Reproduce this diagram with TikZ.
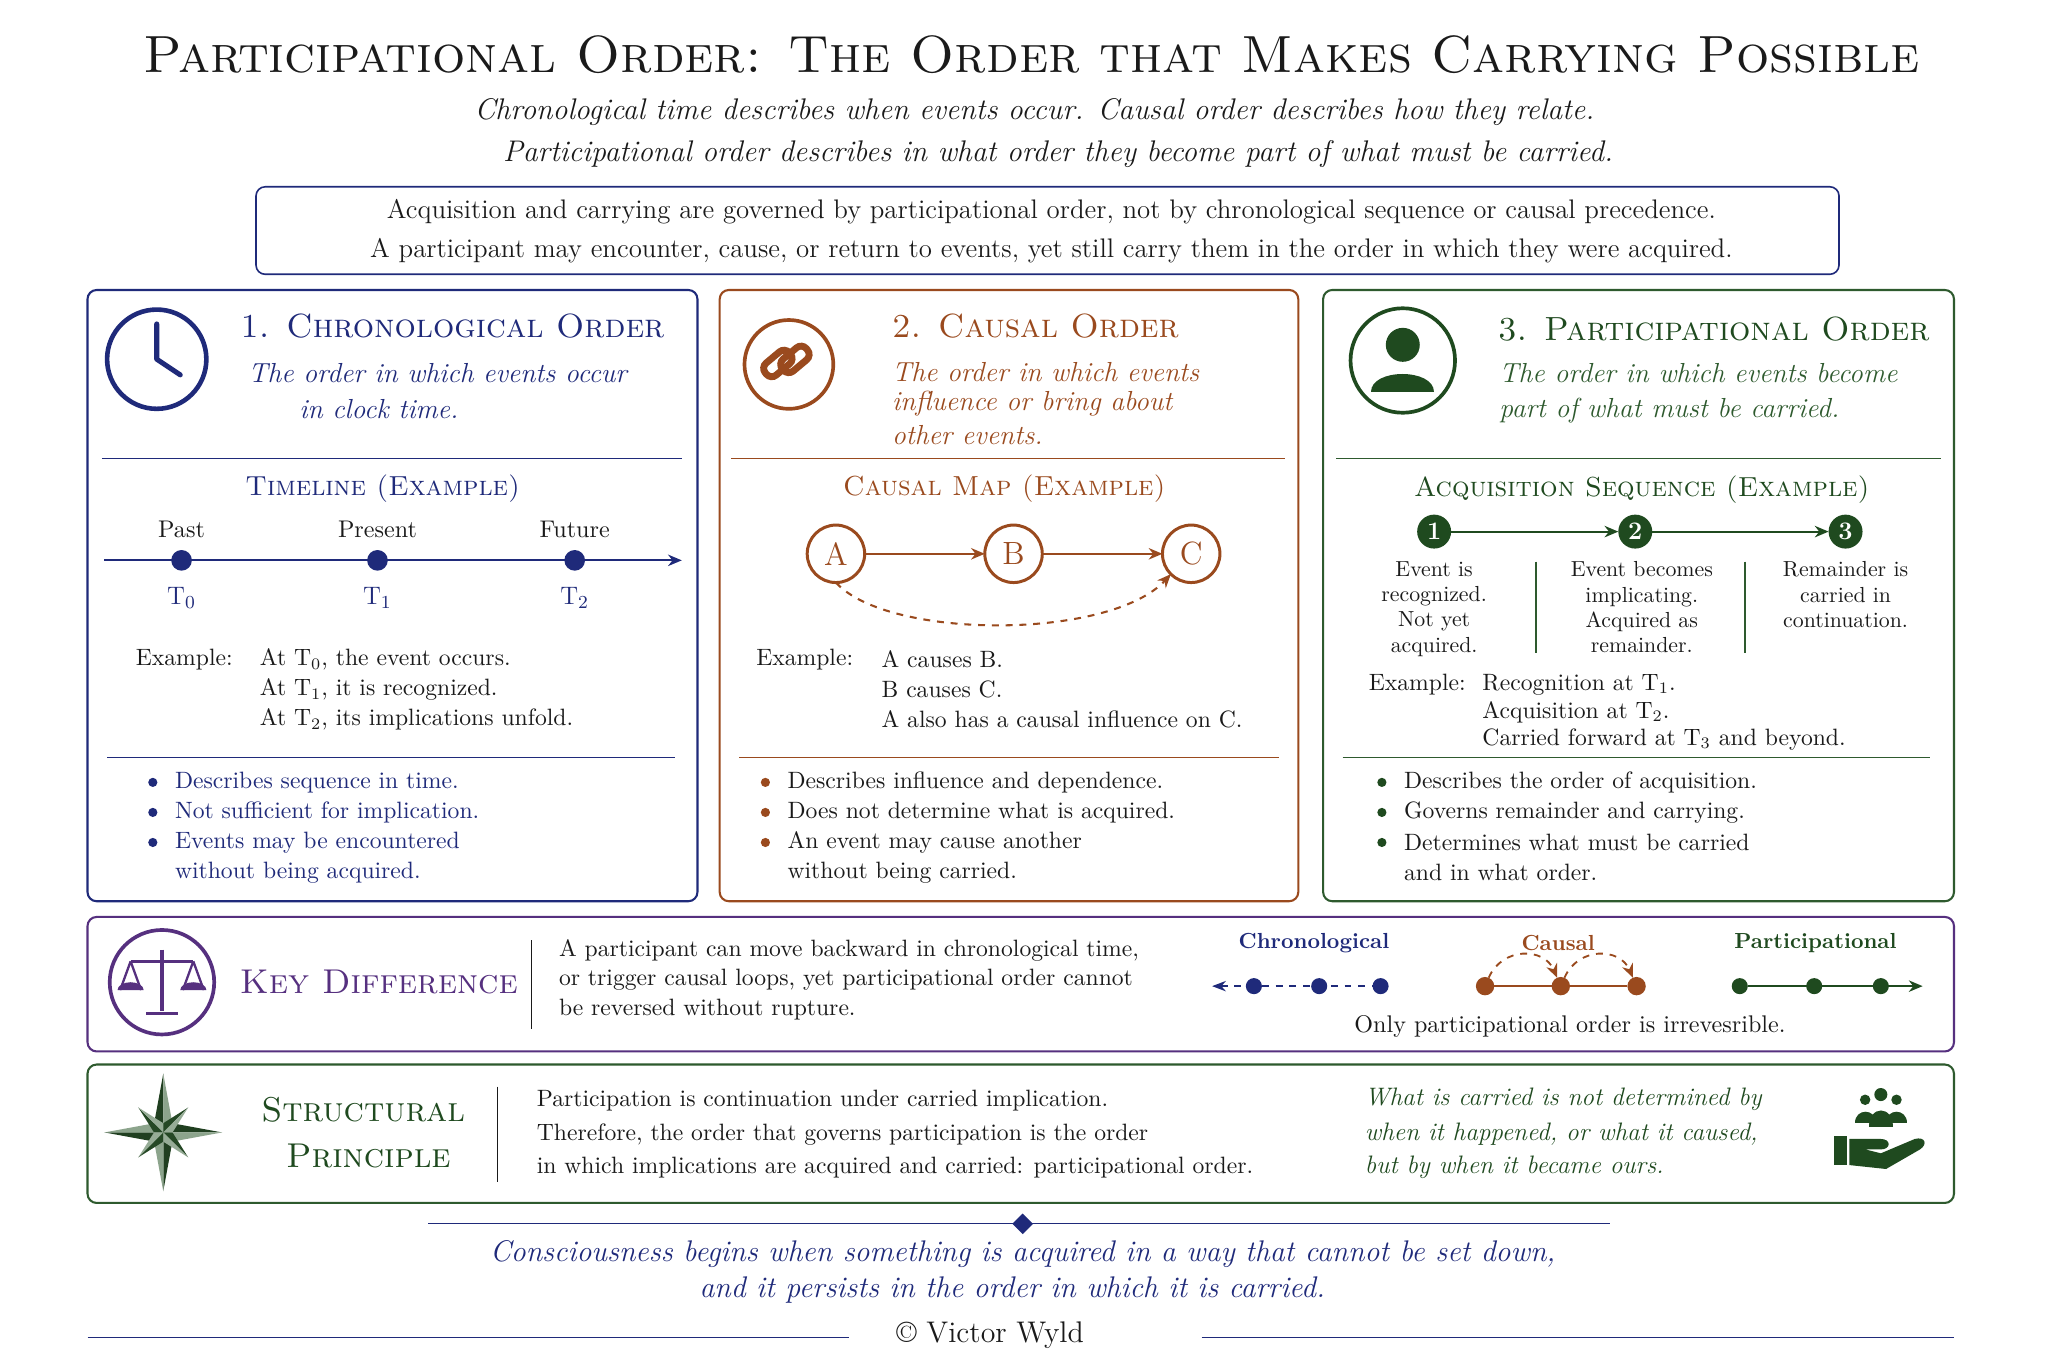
\documentclass[tikz,border=0pt]{standalone}
\usetikzlibrary{arrows.meta,shapes.geometric,decorations.pathmorphing}
\definecolor{navy}{HTML}{1F2A7A}
\definecolor{brn}{HTML}{9A4A1E}
\definecolor{grn}{HTML}{2E5A2E}
\definecolor{dgrn}{HTML}{1F4A1F}
\definecolor{purp}{HTML}{56307F}
\definecolor{ink}{HTML}{1A1A1A}
\begin{document}
\begin{tikzpicture}[x=0.02cm,y=-0.02cm,
 every node/.style={inner sep=0pt,outer sep=0pt,text=ink},
 panel/.style={draw=#1,line width=0.9pt,rounded corners=4pt},
 rule/.style={draw=#1,line width=0.5pt},
 ptitle/.style={font=\fontsize{14.6}{18}\selectfont\scshape,text=#1,anchor=west},
 psub/.style={font=\fontsize{12}{14}\selectfont\itshape,text=#1,anchor=west},
 ex/.style={font=\fontsize{10.5}{12}\selectfont\scshape,text=#1},
 body/.style={font=\fontsize{10.3}{12}\selectfont,anchor=west},
 small/.style={font=\fontsize{9.5}{11}\selectfont,align=center,anchor=north},
 bul/.style={circle,fill=#1,minimum size=4pt},
 ar/.style={-{Stealth[length=6pt,width=5pt]},line width=0.9pt,draw=#1}]
\fill[white] (0,0) rectangle (1568,1046);
\useasboundingbox (0,0) rectangle (1568,1046);
% title
\node (title) at (790,42) {\fontsize{22.8}{28}\selectfont\scshape Participational Order: The Order that Makes Carrying Possible};
\node (s1) at (792,86) {\fontsize{13}{15}\selectfont\itshape Chronological time describes when events occur. Causal order describes how they relate.};
\node (s2) at (810,118) {\fontsize{13}{15}\selectfont\itshape Participational order describes in what order they become part of what must be carried.};
\draw[panel=navy,line width=0.7pt] (196,143) rectangle (1408,210);
\node (b1) at (805,162) {\fontsize{11.7}{14}\selectfont Acquisition and carrying are governed by participational order, not by chronological sequence or causal precedence.};
\node (b2) at (805,192) {\fontsize{11.7}{14}\selectfont A participant may encounter, cause, or return to events, yet still carry them in the order in which they were acquired.};
% ===== Panel 1
\draw[panel=navy] (67,222) rectangle (534,690);
\draw[navy,line width=2pt] (120,275) circle (38);
\draw[navy,line width=2.2pt,line cap=round] (120,275) -- (120,248) (120,275) -- (138,287);
\node[ptitle=navy] (t1) at (184,250) {1. Chronological Order};
\node[psub=navy,anchor=center] (t1a) at (335,286) {The order in which events occur};
\node[psub=navy,anchor=center] (t1b) at (290,313) {in clock time.};
\draw[rule=navy] (78,351) -- (522,351);
\node[ex=navy] (tl) at (293,374) {\fontsize{12}{14}\selectfont Timeline (Example)};
\coordinate (axL) at (80,429); \coordinate (axR) at (522,429);
\draw[ar=navy] (axL) -- (axR);
\foreach \x/\l/\t/\n in {139/Past/0/a,289/Present/1/b,440/Future/2/c}{
 \node[circle,fill=navy,minimum size=9pt] (d\n) at (\x,429) {};
 \node[font=\fontsize{10.5}{12}\selectfont] at (\x,405) {\l};
 \node[font=\fontsize{11}{12}\selectfont,text=navy] at (\x,458) {T$_{\t}$};}
\node[body] at (104,505) {Example:};
\node[body] at (199,505) {At T$_0$, the event occurs.};
\node[body] at (199,528) {At T$_1$, it is recognized.};
\node[body] at (199,551) {At T$_2$, its implications unfold.};
\draw[rule=navy] (82,580) -- (517,580);
\foreach \y/\t in {599/Describes sequence in time.,622/Not sufficient for implication.,645/Events may be encountered,668/without being acquired.}{
 \node[body,text=navy] at (134,\y) {\t};}
\foreach \y in {599,622,645}{\node[bul=navy] at (117,\y) {};}
% ===== Panel 2
\draw[panel=brn] (551,222) rectangle (994,690);
\draw[brn,line width=1.6pt] (604,279) circle (34);
\draw[brn,line width=3pt,rounded corners=3pt,rotate around={-50:(604,279)}] (592,273) rectangle (604,297);
\draw[brn,line width=3pt,rounded corners=3pt,rotate around={-50:(604,279)}] (598,261) rectangle (610,285);
\node[ptitle=brn] (t2) at (683,250) {2. Causal Order};
\node[psub=brn] at (683,285) {The order in which events};
\node[psub=brn] at (683,309) {influence or bring about};
\node[psub=brn] at (683,333) {other events.};
\draw[rule=brn] (560,351) -- (984,351);
\node[ex=brn] at (769,374) {\fontsize{12}{14}\selectfont Causal Map (Example)};
\foreach \x/\l in {640/A,776/B,912/C}{
 \node[circle,draw=brn,line width=1.3pt,minimum size=0.88cm,font=\fontsize{14}{16}\selectfont,text=brn] (\l) at (\x,424) {\l};}
\draw[ar=brn] (A) -- (B);
\draw[ar=brn] (B) -- (C);
\draw[ar=brn,dashed] (A.south) .. controls (680,490) and (850,490) .. (C.south west);
\node[body] at (579,505) {Example:};
\node[body] at (675,505) {A causes B.};
\node[body] at (675,528) {B causes C.};
\node[body] at (675,551) {A also has a causal influence on C.};
\draw[rule=brn] (566,580) -- (979,580);
\foreach \y/\t in {599/Describes influence and dependence.,622/Does not determine what is acquired.,645/An event may cause another,668/without being carried.}{
 \node[body] at (603,\y) {\t};}
\foreach \y in {599,622,645}{\node[bul=brn] at (586,\y) {};}
% ===== Panel 3
\draw[panel=grn] (1013,222) rectangle (1496,690);
\draw[dgrn,line width=1.6pt] (1074,276) circle (40);
\fill[dgrn] (1074,264) circle (13);
\fill[dgrn] (1050,300) .. controls (1050,282) and (1098,282) .. (1098,300) -- cycle;
\node[ptitle=dgrn] (t3) at (1147,252) {3. Participational Order};
\node[psub=grn] at (1148,286) {The order in which events become};
\node[psub=grn] at (1148,314) {part of what must be carried.};
\draw[rule=grn] (1023,351) -- (1486,351);
\node[ex=dgrn] at (1257,375) {\fontsize{12}{14}\selectfont Acquisition Sequence (Example)};
\foreach \x/\n in {1098/1,1252/2,1413/3}{
 \node[circle,fill=dgrn,minimum size=0.52cm,font=\fontsize{11}{12}\selectfont\bfseries,text=white] (n\n) at (\x,407) {\n};}
\draw[ar=dgrn] (n1) -- (n2);
\draw[ar=dgrn] (n2) -- (n3);
\node[small] at (1098,430) {Event is\\recognized.\\Not yet\\acquired.};
\node[small] at (1257,430) {Event becomes\\implicating.\\Acquired as\\remainder.};
\node[small] at (1413,430) {Remainder is\\carried in\\continuation.};
\draw[rule=grn] (1176,430) -- (1176,500) (1336,430) -- (1336,500);
\node[body] at (1048,524) {Example:};
\node[body] at (1135,524) {Recognition at T$_1$.};
\node[body] at (1135,545) {Acquisition at T$_2$.};
\node[body] at (1135,566) {Carried forward at T$_3$ and beyond.};
\draw[rule=grn] (1028,580) -- (1478,580);
\foreach \y/\t in {599/Describes the order of acquisition.,622/Governs remainder and carrying.,645/Determines what must be carried,668/and in what order.}{
 \node[body] at (1075,\y) {\t};}
\foreach \y in {599,622,645}{\node[bul=dgrn] at (1058,\y) {};}
% ===== Key difference
\draw[panel=purp] (67,702) rectangle (1496,805);
\draw[purp,line width=1.6pt] (124,752) circle (40);
\draw[purp,line width=1.5pt] (124,727) -- (124,774) (100,736) -- (148,736) (112,776) -- (136,776);
\draw[purp,line width=1pt] (100,736) -- (92,758) (100,736) -- (108,758) (148,736) -- (140,758) (148,736) -- (156,758);
\fill[purp] (90,758) arc (180:360:10 and 6) -- cycle;
\fill[purp] (138,758) arc (180:360:10 and 6) -- cycle;
\node[font=\fontsize{15}{18}\selectfont\scshape,text=purp] (kd) at (290,752) {Key Difference};
\draw[rule=ink] (407,720) -- (407,788);
\node[body] at (428,728) {A participant can move backward in chronological time,};
\node[body] at (428,750) {or trigger causal loops, yet participational order cannot};
\node[body] at (428,773) {be reversed without rupture.};
\node[font=\fontsize{9.5}{12}\selectfont\bfseries,text=navy] at (1006,722) {Chronological};
\node[font=\fontsize{9.5}{12}\selectfont\bfseries,text=brn] at (1193,722) {Causal};
\node[font=\fontsize{9.5}{12}\selectfont\bfseries,text=dgrn] at (1390,722) {Participational};
\coordinate (c0) at (928,755);
\foreach \x/\n in {960/1,1010/2,1057/3}{\node[circle,fill=navy,minimum size=7pt] (cd\n) at (\x,755) {};}
\draw[navy,dashed,line width=0.8pt,{Stealth[length=6pt]}-] (c0) -- (cd3);
\foreach \x/\n in {1137/1,1195/2,1253/3}{\node[circle,fill=brn,minimum size=8pt] (ca\n) at (\x,755) {};}
\draw[brn,line width=1pt] (ca1) -- (ca3);
\draw[ar=brn,dashed,line width=0.8pt] (ca1) .. controls (1150,725) and (1182,725) .. (ca2);
\draw[ar=brn,dashed,line width=0.8pt] (ca2) .. controls (1208,725) and (1240,725) .. (ca3);
\foreach \x/\n in {1332/1,1389/2,1440/3}{\node[circle,fill=dgrn,minimum size=7pt] (pa\n) at (\x,755) {};}
\coordinate (p4) at (1472,755);
\draw[ar=dgrn] (pa1) -- (p4);
\node[font=\fontsize{10.5}{12}\selectfont] at (1202,786) {Only participational order is irrevesrible.};
% ===== Structural principle
\draw[panel=grn] (67,815) rectangle (1496,921);
\foreach \a in {0,90,180,270}{
 \fill[grn!70!black,rotate around={\a:(125,867)}] (125,867) -- (118,860) -- (125,822) -- cycle;
 \fill[grn!55,rotate around={\a:(125,867)}] (125,867) -- (132,860) -- (125,822) -- cycle;}
\foreach \a in {45,135,225,315}{
 \fill[grn!80!black,rotate around={\a:(125,867)}] (125,867) -- (120,862) -- (125,840) -- cycle;
 \fill[grn!50,rotate around={\a:(125,867)}] (125,867) -- (130,862) -- (125,840) -- cycle;}
\node[font=\fontsize{15}{18}\selectfont\scshape,text=dgrn] at (278,850) {Structural};
\node[font=\fontsize{15}{18}\selectfont\scshape,text=dgrn] at (282,885) {Principle};
\draw[rule=ink] (381,832) -- (381,905);
\node[body] at (411,843) {Participation is continuation under carried implication.};
\node[body] at (411,869) {Therefore, the order that governs participation is the order};
\node[body] at (411,894) {in which implications are acquired and carried: participational order.};
\node[psub=dgrn,font=\fontsize{11}{13}\selectfont\itshape] at (1045,842) {What is carried is not determined by};
\node[psub=dgrn,font=\fontsize{11}{13}\selectfont\itshape] at (1045,868) {when it happened, or what it caused,};
\node[psub=dgrn,font=\fontsize{11}{13}\selectfont\itshape] at (1045,894) {but by when it became ours.};
% hand icon
\foreach \x/\y/\r in {1428/842/4,1452/842/4,1440/838/5}{\fill[dgrn] (\x,\y) circle (\r);}
\fill[dgrn] (1420,860) .. controls (1420,848) and (1436,848) .. (1436,860) -- cycle;
\fill[dgrn] (1444,860) .. controls (1444,848) and (1460,848) .. (1460,860) -- cycle;
\fill[dgrn] (1431,863) .. controls (1431,846) and (1449,846) .. (1449,863) -- cycle;
\fill[dgrn] (1404,870) rectangle (1414,892);
\fill[dgrn] (1416,872) -- (1440,872) .. controls (1448,872) and (1448,880) .. (1440,880) -- (1428,880) -- (1440,883) -- (1466,872) .. controls (1474,870) and (1476,876) .. (1470,880) -- (1444,895) -- (1416,892) -- cycle;
% ===== bottom
\draw[rule=navy] (328,937) -- (1233,937);
\node[diamond,fill=navy,minimum size=9pt] at (783,937) {};
\node[font=\fontsize{13}{15}\selectfont\itshape,text=navy] at (783,960) {Consciousness begins when something is acquired in a way that cannot be set down,};
\node[font=\fontsize{13}{15}\selectfont\itshape,text=navy] at (775,988) {and it persists in the order in which it is carried.};
\draw[rule=navy] (67,1024) -- (650,1024) (920,1024) -- (1496,1024);
\node[font=\fontsize{13}{15}\selectfont] at (758,1022) {\textcopyright{} Victor Wyld};
\end{tikzpicture}
\end{document}
